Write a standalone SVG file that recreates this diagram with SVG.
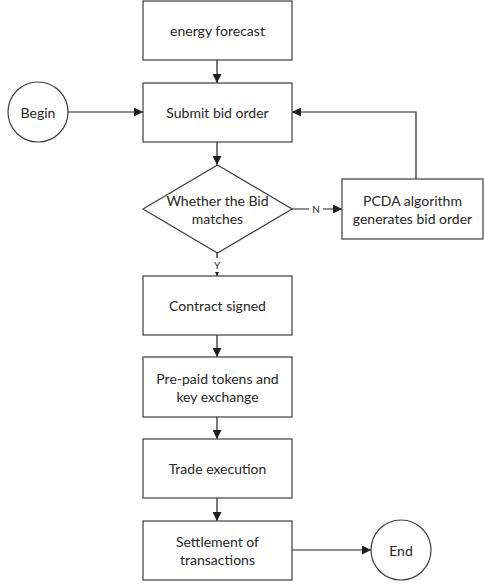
<svg xmlns="http://www.w3.org/2000/svg" width="484" height="586" viewBox="0 0 484 586">
  <style>
    .box { fill: #ffffff; stroke: #3f3f3f; stroke-width: 1.2; }
    .lbl { font-family: Lato, "Open Sans", "Liberation Sans", sans-serif; font-size: 14px; fill: #262626; text-anchor: middle; dominant-baseline: central; }
    .tag { font-family: Lato, "Liberation Sans", sans-serif; font-size: 10px; fill: #262626; text-anchor: middle; dominant-baseline: central; }
    .edge { fill: none; stroke: #1e1e1e; stroke-width: 1.2; }
  </style>
  <defs>
    <marker id="arrow" viewBox="0 0 10 10" refX="10" refY="5" markerWidth="9" markerHeight="9" markerUnits="userSpaceOnUse" orient="auto">
      <path d="M0,0 L10,5 L0,10 z" fill="#1e1e1e"/>
    </marker>
    <marker id="tick" viewBox="0 0 10 10" refX="10" refY="5" markerWidth="5" markerHeight="5" markerUnits="userSpaceOnUse" orient="auto">
      <path d="M0,0 L10,5 L0,10 z" fill="#1e1e1e"/>
    </marker>
  </defs>

  <rect width="484" height="586" fill="#ffffff"/>

  <g id="connectors">
    <line class="edge" x1="217" y1="60" x2="217" y2="83" marker-end="url(#arrow)"/>
    <line class="edge" x1="68" y1="112" x2="143" y2="112" marker-end="url(#arrow)"/>
    <line class="edge" x1="217" y1="142" x2="217" y2="165" marker-end="url(#arrow)"/>
    <line class="edge" x1="292" y1="209" x2="342" y2="209" marker-end="url(#arrow)"/>
    <rect x="309" y="203" width="14" height="12" fill="#ffffff"/>
    <text class="tag" x="316" y="209">N</text>
    <polyline class="edge" points="416,179 416,112 292,112" marker-end="url(#arrow)"/>
    <line class="edge" x1="217" y1="253" x2="217" y2="276" marker-end="url(#tick)"/>
    <rect x="211" y="258" width="12" height="14" fill="#ffffff"/>
    <text class="tag" x="217" y="265">Y</text>
    <line class="edge" x1="217" y1="335" x2="217" y2="357" marker-end="url(#arrow)"/>
    <line class="edge" x1="217" y1="417" x2="217" y2="439" marker-end="url(#arrow)"/>
    <line class="edge" x1="217" y1="498" x2="217" y2="521" marker-end="url(#arrow)"/>
    <line class="edge" x1="292" y1="550" x2="371" y2="550" marker-end="url(#arrow)"/>
  </g>

  <g id="energy-forecast">
    <rect class="box" x="143" y="1" width="149" height="59"/>
    <text class="lbl" x="217.5" y="30.5">energy forecast</text>
  </g>

  <g id="begin">
    <circle class="box" cx="38" cy="112" r="30"/>
    <text class="lbl" x="38" y="112">Begin</text>
  </g>

  <g id="submit-bid">
    <rect class="box" x="143" y="83" width="149" height="59"/>
    <text class="lbl" x="217.5" y="112.5">Submit bid order</text>
  </g>

  <g id="bid-match">
    <polygon class="box" points="217.5,165 292,209 217.5,253 143,209"/>
    <text class="lbl" x="217.5" y="200">Whether the Bid</text>
    <text class="lbl" x="217.5" y="218">matches</text>
  </g>

  <g id="pcda">
    <rect class="box" x="342" y="179" width="141" height="60"/>
    <text class="lbl" x="412.5" y="200">PCDA algorithm</text>
    <text class="lbl" x="412.5" y="218">generates bid order</text>
  </g>

  <g id="contract">
    <rect class="box" x="143" y="276" width="149" height="59"/>
    <text class="lbl" x="217.5" y="305">Contract signed</text>
  </g>

  <g id="prepaid">
    <rect class="box" x="143" y="357" width="149" height="60"/>
    <text class="lbl" x="217.5" y="378">Pre-paid tokens and</text>
    <text class="lbl" x="217.5" y="396">key exchange</text>
  </g>

  <g id="trade">
    <rect class="box" x="143" y="439" width="149" height="59"/>
    <text class="lbl" x="217.5" y="468">Trade execution</text>
  </g>

  <g id="settlement">
    <rect class="box" x="143" y="521" width="149" height="59"/>
    <text class="lbl" x="217.5" y="541">Settlement of</text>
    <text class="lbl" x="217.5" y="559">transactions</text>
  </g>

  <g id="end">
    <circle class="box" cx="401" cy="550" r="30"/>
    <text class="lbl" x="401" y="550">End</text>
  </g>
</svg>
